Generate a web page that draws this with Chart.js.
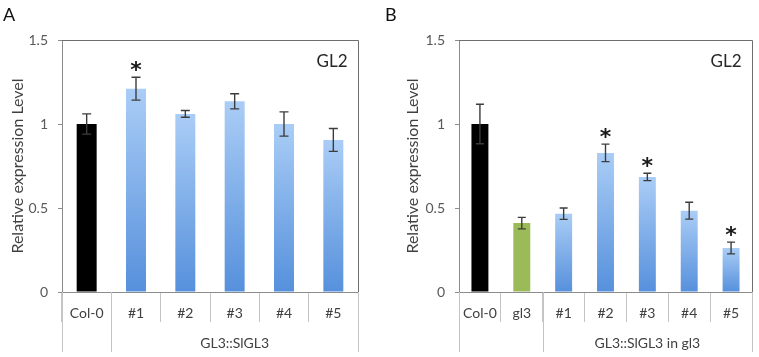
<!DOCTYPE html>
<html>
<head>
<meta charset="utf-8">
<script src="https://cdn.jsdelivr.net/npm/chart.js@4.4.1/dist/chart.umd.min.js"></script>
<style>
  html, body { margin: 0; padding: 0; background: #fff; }
  #wrap { position: relative; width: 759px; height: 357px; }
  .panel { position: absolute; top: 0; height: 357px; }
  #panelA { left: 0; width: 380px; }
  #panelB { left: 380px; width: 379px; }
</style>
</head>
<body>
<div id="wrap">
  <div class="panel" id="panelA"><canvas id="chartA"></canvas></div>
  <div class="panel" id="panelB"><canvas id="chartB"></canvas></div>
</div>
<script>
// Panel A data
const categoriesA = ["Col-0", "#1", "#2", "#3", "#4", "#5"];
const valuesA = [1.0, 1.21, 1.06, 1.135, 1.0, 0.905];
const errorsA = [0.06, 0.068, 0.02, 0.045, 0.072, 0.068];
const starsA = [false, true, false, false, false, false];
const groupLabelsA = ["", "GL3::SlGL3"];
const groupStartsA = [0, 1];

// Panel B data
const categoriesB = ["Col-0", "gl3", "#1", "#2", "#3", "#4", "#5"];
const valuesB = [1.0, 0.41, 0.466, 0.828, 0.685, 0.484, 0.262];
const errorsB = [0.118, 0.034, 0.034, 0.052, 0.022, 0.05, 0.035];
const starsB = [false, false, false, true, true, false, true];
const groupLabelsB = ["", "GL3::SlGL3 in gl3"];
const groupStartsB = [0, 2];

const yTicks = [0, 0.5, 1, 1.5];

const FONT = "Lato, 'Noto Sans', sans-serif";
const AXIS_GRAY = "#8c8c8c";
const TABLE_GRAY = "#c4c4c4";
const TEXT_GRAY = "#404040";

// bar fill: Col-0 black, gl3 green, transgenic lines blue gradient
function barFill(context) {
  const label = context.chart.data.labels[context.dataIndex];
  if (label === "Col-0") return "#000000";
  if (label === "gl3") return "#9bbb59";
  const chart = context.chart;
  if (!chart.chartArea) return "#7fb0ea";
  const y = chart.scales.y;
  const top = y.getPixelForValue(context.raw);
  const base = y.getPixelForValue(0);
  const g = chart.ctx.createLinearGradient(0, top, 0, base);
  g.addColorStop(0, "#aacdf6");
  g.addColorStop(1, "#5690dc");
  return g;
}

// error bars, stars, plot box, category table, labels
function decorPlugin(panel) {
  return {
    id: "decor",
    afterDatasetsDraw(chart) {
      const c = chart.ctx;
      const area = chart.chartArea;
      const y = chart.scales.y;
      const meta = chart.getDatasetMeta(0);
      c.save();

      // box top and right
      c.strokeStyle = "#6e6e6e";
      c.lineWidth = 1;
      c.beginPath();
      c.moveTo(area.left, area.top + 0.5);
      c.lineTo(area.right + 0.5, area.top + 0.5);
      c.lineTo(area.right + 0.5, area.bottom);
      c.stroke();

      // error bars
      c.strokeStyle = "#3c3c3c";
      c.lineWidth = 1.4;
      panel.values.forEach((v, i) => {
        const bx = meta.data[i].x;
        const hi = y.getPixelForValue(v + panel.errors[i]);
        const lo = y.getPixelForValue(v - panel.errors[i]);
        c.beginPath();
        c.moveTo(bx, hi); c.lineTo(bx, lo);
        c.moveTo(bx - panel.cap, hi); c.lineTo(bx + panel.cap, hi);
        c.moveTo(bx - panel.cap, lo); c.lineTo(bx + panel.cap, lo);
        c.stroke();
      });

      // stars
      c.fillStyle = "#1a1a1a";
      c.font = "bold 22px 'DejaVu Sans', sans-serif";
      c.textAlign = "center";
      c.textBaseline = "alphabetic";
      const m = c.measureText("*");
      const shift = (m.actualBoundingBoxAscent - m.actualBoundingBoxDescent) / 2;
      panel.stars.forEach((s, i) => {
        if (!s) return;
        const bx = meta.data[i].x;
        const cy = y.getPixelForValue(panel.values[i] + panel.errors[i]) - 11;
        c.fillText("*", bx, cy + shift);
      });

      // group row of the category table
      const step = (area.right - area.left) / chart.data.labels.length;
      c.strokeStyle = TABLE_GRAY;
      c.lineWidth = 1;
      const bounds = panel.groupStarts.concat([chart.data.labels.length]);
      bounds.forEach((b) => {
        const px = Math.round(area.left + b * step) + 0.5;
        c.beginPath();
        c.moveTo(px, area.bottom);
        c.lineTo(px, area.bottom + 60);
        c.stroke();
      });
      c.fillStyle = TEXT_GRAY;
      c.font = "14px " + FONT;
      c.textBaseline = "middle";
      panel.groupLabels.forEach((lab, gi) => {
        if (!lab) return;
        const from = panel.groupStarts[gi];
        const to = bounds[gi + 1];
        const cx = area.left + (from + to) / 2 * step;
        c.fillText(lab, cx, area.bottom + 51);
      });

      // gene name
      c.fillStyle = "#262626";
      c.font = "17px " + FONT;
      c.textAlign = "center";
      c.fillText("GL2", area.right - 26, 62);

      // panel letter
      c.fillStyle = "#111";
      c.font = "18px " + FONT;
      c.textAlign = "left";
      c.fillText(panel.letter, panel.letterX, 15);
      c.restore();
    }
  };
}

function makeChart(id, labels, panel, yWidth, padRight, titlePad) {
  return new Chart(document.getElementById(id), {
    type: "bar",
    data: {
      labels: labels,
      datasets: [{
        data: panel.values,
        backgroundColor: barFill,
        borderWidth: 0,
        barPercentage: 0.405,
        categoryPercentage: 1.0
      }]
    },
    options: {
      responsive: true,
      maintainAspectRatio: false,
      animation: false,
      events: [],
      layout: { padding: { top: 40, right: padRight, left: 0, bottom: 0 } },
      plugins: { legend: { display: false }, tooltip: { enabled: false } },
      scales: {
        x: {
          offset: true,
          grid: {
            offset: true,
            drawOnChartArea: false,
            drawTicks: true,
            tickLength: 30,
            color: TABLE_GRAY
          },
          border: { display: true, color: AXIS_GRAY },
          ticks: { color: TEXT_GRAY, font: { family: FONT, size: 14 }, padding: -17, maxRotation: 0 },
          afterFit: (s) => { s.height = 65; }
        },
        y: {
          min: 0,
          max: 1.5,
          afterBuildTicks: (s) => { s.ticks = yTicks.map((v) => ({ value: v })); },
          grid: { drawOnChartArea: false, drawTicks: true, tickLength: 4, color: AXIS_GRAY },
          border: { display: true, color: AXIS_GRAY },
          ticks: {
            color: "#595959",
            font: { family: FONT, size: 14 },
            padding: 10,
            callback: (v) => String(v)
          },
          title: {
            display: true,
            text: "Relative expression Level",
            color: TEXT_GRAY,
            font: { family: FONT, size: 16 },
            padding: { top: titlePad, bottom: 0 }
          },
          afterFit: (s) => { s.width = yWidth; }
        }
      }
    },
    plugins: [decorPlugin(panel)]
  });
}

makeChart("chartA", categoriesA, {
  values: valuesA, errors: errorsA, stars: starsA,
  groupLabels: groupLabelsA, groupStarts: groupStartsA,
  cap: 4.5, letter: "A", letterX: 3
}, 62, 22, 8);

makeChart("chartB", categoriesB, {
  values: valuesB, errors: errorsB, stars: starsB,
  groupLabels: groupLabelsB, groupStarts: groupStartsB,
  cap: 4, letter: "B", letterX: 5
}, 79, 7, 23);
</script>
</body>
</html>
